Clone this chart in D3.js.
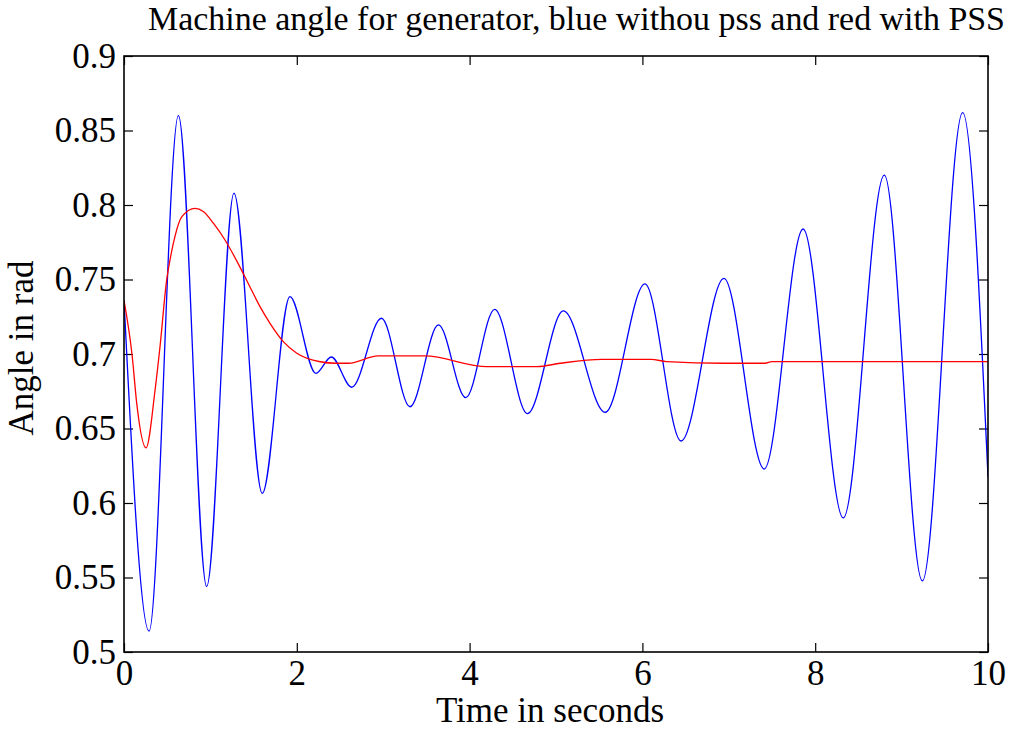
<!DOCTYPE html>
<html>
<head>
<meta charset="utf-8">
<script src="https://cdn.jsdelivr.net/npm/d3@7/dist/d3.min.js"></script>
<style>
html,body{margin:0;padding:0;background:#fff;}
svg{display:block;}
</style>
</head>
<body>
<svg id="chart" width="1016" height="731"></svg>
<script>
// Data
const titleText = "Machine angle for generator, blue withou pss and red with PSS";
const xLabel = "Time in seconds";
const yLabel = "Angle in rad";
const xTicks = [0, 2, 4, 6, 8, 10];
const yTicks = [0.5, 0.55, 0.6, 0.65, 0.7, 0.75, 0.8, 0.85, 0.9];

// Blue: without PSS (time s, angle rad)
const blueT = [0, 0.29, 0.63, 0.957, 1.273, 1.60, 1.92, 2.22, 2.40, 2.635, 2.98, 3.31, 3.64, 3.955, 4.29, 4.67, 5.085, 5.57, 6.03, 6.447, 6.944, 7.41, 7.86, 8.325, 8.80, 9.24, 9.707, 10];
const blueV = [0.736, 0.514, 0.860, 0.544, 0.808, 0.6065, 0.7385, 0.687, 0.698, 0.6777, 0.724, 0.6646, 0.7195, 0.6707, 0.730, 0.660, 0.7289, 0.6609, 0.747, 0.6416, 0.7508, 0.6228, 0.7839, 0.590, 0.820, 0.5477, 0.862, 0.6177];

// Red: with PSS
const redT = [0, 0.096, 0.147, 0.255, 0.36, 0.417, 0.494, 0.532, 0.59, 0.668, 0.822, 0.918, 1.034, 1.169, 1.30, 1.458, 1.574, 1.69, 1.844, 2.0, 2.27, 2.45, 2.6, 2.94, 3.48, 4.20, 4.78, 5.05, 5.53, 6.1, 6.28, 6.94, 7.42, 7.5, 10];
const redV = [0.736, 0.698, 0.667, 0.637, 0.676, 0.705, 0.7497, 0.763, 0.779, 0.792, 0.7978, 0.7956, 0.7878, 0.7765, 0.763, 0.745, 0.7318, 0.7206, 0.7083, 0.7005, 0.6948, 0.6938, 0.6938, 0.6987, 0.6987, 0.6915, 0.6915, 0.6938, 0.6964, 0.6964, 0.6949, 0.6938, 0.6938, 0.6949, 0.6949];

const FONT = '"Liberation Serif","Times New Roman",Times,serif';
const svg = d3.select("#chart").attr("font-family", FONT);
const L = 124, R = 988, T = 56, B = 652;

const x = d3.scaleLinear().domain([0, 10]).range([L, R]);
const y = d3.scaleLinear().domain([0.5, 0.9]).range([B, T]);

svg.append("rect").attr("width", 1016).attr("height", 731).attr("fill", "#fff");

const tickLen = 9;
const fmtY = d => String(+d.toFixed(2));

// Axes (inside ticks, mirrored)
const axB = d3.axisBottom(x).tickValues(xTicks).tickSize(-tickLen).tickPadding(8).tickFormat(d3.format("d"));
const axT = d3.axisTop(x).tickValues(xTicks).tickSize(-tickLen).tickFormat("");
const axL = d3.axisLeft(y).tickValues(yTicks).tickSize(-tickLen).tickPadding(8).tickFormat(fmtY);
const axR = d3.axisRight(y).tickValues(yTicks).tickSize(-tickLen).tickFormat("");

function style(g) {
  g.attr("font-family", FONT).attr("font-size", 35);
  g.select(".domain").remove();
  g.selectAll(".tick line").attr("stroke", "#000").attr("stroke-width", 1.2);
  g.selectAll(".tick text").attr("fill", "#000").attr("font-size", 35).attr("font-family", FONT);
}
svg.append("g").attr("transform", `translate(0,${B})`).call(axB).call(style);
svg.append("g").attr("transform", `translate(0,${T})`).call(axT).call(style);
svg.append("g").attr("transform", `translate(${L},0)`).call(axL).call(style);
svg.append("g").attr("transform", `translate(${R},0)`).call(axR).call(style);

// Lines
svg.append("clipPath").attr("id", "clip").append("rect")
  .attr("x", L).attr("y", T).attr("width", R - L).attr("height", B - T);

const line = d3.line().x(d => x(d[0])).y(d => y(d[1])).curve(d3.curveMonotoneX);
const blue = blueT.map((t, i) => [t, blueV[i]]);
const red = redT.map((t, i) => [t, redV[i]]);

const plot = svg.append("g").attr("clip-path", "url(#clip)");
plot.append("path").datum(blue).attr("d", line).attr("fill", "none").attr("stroke", "#0000ff").attr("stroke-width", 1.3);
plot.append("path").datum(red).attr("d", line).attr("fill", "none").attr("stroke", "#ff0000").attr("stroke-width", 1.3);

// Box
svg.append("rect").attr("x", L).attr("y", T).attr("width", R - L).attr("height", B - T)
  .attr("fill", "none").attr("stroke", "#000").attr("stroke-width", 1.6);

// Title and labels
svg.append("text").attr("x", 148).attr("y", 30).attr("font-size", 34).attr("font-family", FONT)
  .attr("textLength", 857).attr("lengthAdjust", "spacingAndGlyphs").text(titleText);
svg.append("text").attr("x", 550).attr("y", 722).attr("text-anchor", "middle").attr("font-size", 35).attr("font-family", FONT)
  .text(xLabel);
svg.append("text").attr("transform", "translate(33,348) rotate(-90)").attr("text-anchor", "middle").attr("font-size", 35).attr("font-family", FONT)
  .text(yLabel);
</script>
</body>
</html>
